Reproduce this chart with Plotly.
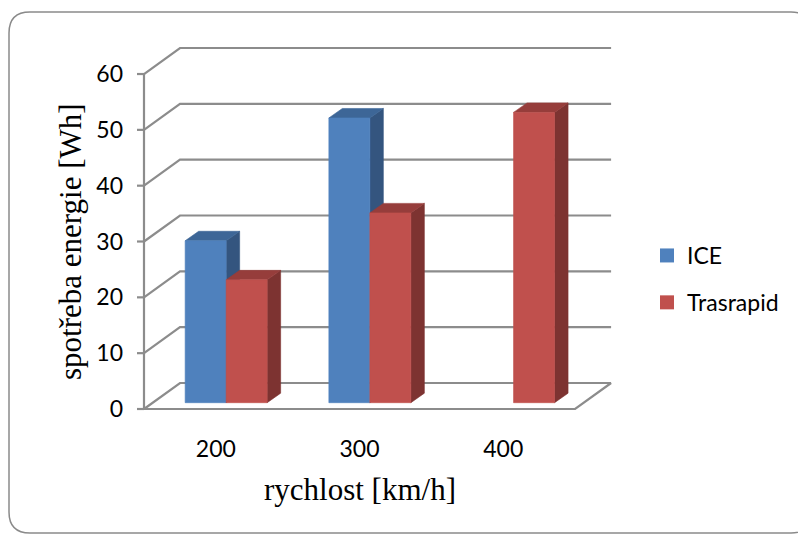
import plotly.graph_objects as go

# ---- data ----
categories = ["200", "300", "400"]
series_names = ["ICE", "Trasrapid"]
ice_values = [29, 51, None]
trasrapid_values = [22, 34, 52]
y_ticks = [0, 10, 20, 30, 40, 50, 60]

# ---- styles ----
front_colors = ["#4F81BD", "#C0504D"]
top_colors = ["#3D6697", "#963D3B"]
side_colors = ["#34557F", "#7D3331"]
grid_color = "#8C8C8C"

# ---- geometry (pixel scales) ----
L, R, T, B = 130, 180, 40, 115
W_FIG, H_FIG = 798, 535
PW, PH = W_FIG - L - R, H_FIG - T - B
PX_X = 143.7      # px per category unit
PX_Y = 5.583      # px per value unit
x_lo = -0.5 - (144 - L) / PX_X
x_hi = x_lo + PW / PX_X
y_lo = -(T + PH - 409) / PX_Y
y_hi = y_lo + PH / PX_Y

DEPTH_X = 36 / PX_X     # back-wall offset
DEPTH_Y = 26 / PX_Y
BAR_W = 41 / PX_X
BAR_SHIFT_X = 10.3 / PX_X
BAR_SHIFT_Y = 6.3 / PX_Y
BAR_DX = 13.5 / PX_X
BAR_DY = 9.5 / PX_Y

n_cat = len(categories)
x_left = -0.5
x_right = n_cat - 0.5

fig = go.Figure()

# back wall gridlines + diagonals
gx, gy = [], []
for v in y_ticks:
    gx += [x_left, x_left + DEPTH_X, x_right + DEPTH_X, None]
    gy += [v, v + DEPTH_Y, v + DEPTH_Y, None]
# floor front and right edges
gx += [x_left, x_right, x_right + DEPTH_X, None]
gy += [0, 0, DEPTH_Y, None]
# front value axis and tick marks
gx += [x_left, x_left, None]
gy += [y_ticks[0], y_ticks[-1], None]
for v in y_ticks:
    gx += [x_left - 7 / PX_X, x_left, None]
    gy += [v, v, None]
fig.add_trace(go.Scatter(x=gx, y=gy, mode="lines",
                         line=dict(color=grid_color, width=2.2),
                         hoverinfo="skip", showlegend=False))

def poly(xs, ys, color):
    fig.add_trace(go.Scatter(x=xs + [xs[0]], y=ys + [ys[0]], mode="lines",
                             fill="toself", fillcolor=color,
                             line=dict(color=color, width=0.6),
                             hoverinfo="skip", showlegend=False))

all_values = [ice_values, trasrapid_values]
for i in range(n_cat):
    for s, vals in enumerate(all_values):
        v = vals[i]
        if v is None:
            continue
        x0 = i + BAR_SHIFT_X + (s - 1) * BAR_W
        x1 = x0 + BAR_W
        y0 = BAR_SHIFT_Y
        y1 = BAR_SHIFT_Y + v
        # side face
        poly([x1, x1 + BAR_DX, x1 + BAR_DX, x1],
             [y0, y0 + BAR_DY, y1 + BAR_DY, y1], side_colors[s])
        # top face
        poly([x0, x1, x1 + BAR_DX, x0 + BAR_DX],
             [y1, y1, y1 + BAR_DY, y1 + BAR_DY], top_colors[s])
        # front face
        poly([x0, x1, x1, x0], [y0, y0, y1, y1], front_colors[s])

# legend entries
for s, name in enumerate(series_names):
    fig.add_trace(go.Scatter(x=[None], y=[None], mode="markers", name=name,
                             marker=dict(symbol="square", size=14,
                                         color=front_colors[s]),
                             legendgroup=name))

def px_to_paper_x(px):
    return (px - L) / PW

def px_to_paper_y(py):
    return (T + PH - py) / PH

# chart border (rounded rectangle, right edge outside the view)
bx0, by0, bx1, by1, rad = 9, 12, 812, 533, 21
def P(x, y):
    return f"{px_to_paper_x(x):.5f},{px_to_paper_y(y):.5f}"
path = (f"M {P(bx0 + rad, by0)} L {P(bx1 - rad, by0)} Q {P(bx1, by0)} {P(bx1, by0 + rad)} "
        f"L {P(bx1, by1 - rad)} Q {P(bx1, by1)} {P(bx1 - rad, by1)} "
        f"L {P(bx0 + rad, by1)} Q {P(bx0, by1)} {P(bx0, by1 - rad)} "
        f"L {P(bx0, by0 + rad)} Q {P(bx0, by0)} {P(bx0 + rad, by0)} Z")

fig.update_layout(
    width=W_FIG, height=H_FIG,
    margin=dict(l=L, r=R, t=T, b=B, pad=0),
    paper_bgcolor="white", plot_bgcolor="rgba(0,0,0,0)",
    showlegend=True,
    legend=dict(x=px_to_paper_x(647), y=px_to_paper_y(234), xanchor="left", yanchor="top",
                font=dict(family="Lato", size=23, color="#000000"),
                traceorder="grouped", tracegroupgap=14,
                bgcolor="rgba(0,0,0,0)"),
    xaxis=dict(range=[x_lo, x_hi], tickvals=list(range(n_cat)), ticktext=categories,
               showgrid=False, zeroline=False, showline=False, ticks="",
               ticklabelstandoff=13,
               tickfont=dict(family="Lato", size=23, color="#000000")),
    yaxis=dict(range=[y_lo, y_hi], tickvals=y_ticks,
               showgrid=False, zeroline=False, showline=False, ticks="",
               ticklabelstandoff=6,
               tickfont=dict(family="Lato", size=23, color="#000000")),
    shapes=[dict(type="path", xref="paper", yref="paper", path=path,
                 line=dict(color="#8A8A8A", width=1.5), fillcolor="rgba(0,0,0,0)")],
    annotations=[
        dict(text="rychlost [km/h]", xref="paper", yref="paper",
             x=px_to_paper_x(360), y=px_to_paper_y(490), xanchor="center", yanchor="middle",
             showarrow=False, font=dict(family="Liberation Serif", size=31, color="#000000")),
        dict(text="spotřeba energie [Wh]", xref="paper", yref="paper", textangle=-90,
             x=px_to_paper_x(70), y=px_to_paper_y(242), xanchor="center", yanchor="middle",
             showarrow=False, font=dict(family="Liberation Serif", size=31, color="#000000")),
    ],
)

fig.write_html("out.html")
